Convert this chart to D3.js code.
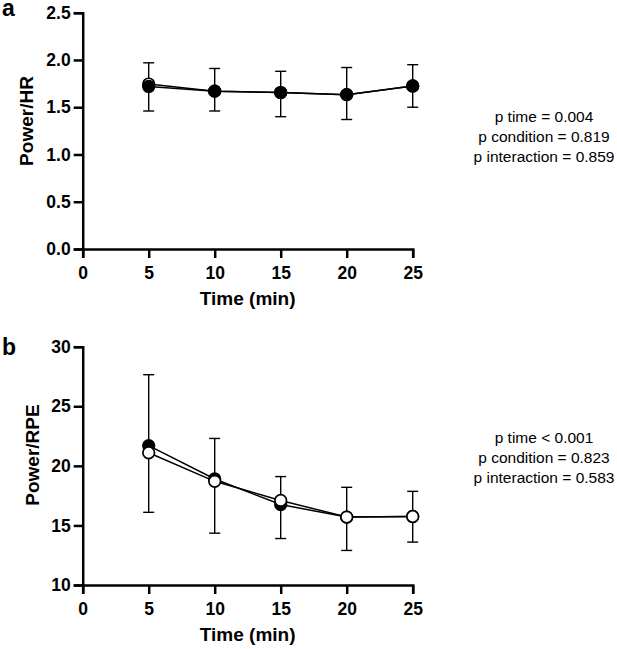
<!DOCTYPE html>
<html><head><meta charset="utf-8">
<script src="https://cdn.jsdelivr.net/npm/d3@7"></script>
<style>body{margin:0;background:#fff}svg{display:block}</style>
</head><body>
<script>
const times = [5, 10, 15, 20, 25];
const xTicks = [0, 5, 10, 15, 20, 25];

// Panel a: Power/HR
const hrFilled = [1.72, 1.67, 1.655, 1.633, 1.725];
const hrOpen   = [1.745, 1.67, 1.655, 1.633, 1.725];
const hrErrHigh = [1.97, 1.91, 1.88, 1.92, 1.95];
const hrErrLow  = [1.46, 1.46, 1.40, 1.37, 1.50];
const hrTicks = [0.0, 0.5, 1.0, 1.5, 2.0, 2.5];
const hrStats = ["p time = 0.004", "p condition = 0.819", "p interaction = 0.859"];

// Panel b: Power/RPE
const rpeFilled = [21.7, 18.9, 16.75, 15.7, 15.75];
const rpeOpen   = [21.1, 18.7, 17.1, 15.7, 15.75];
const rpeErrHigh = [27.65, 22.3, 19.1, 18.2, 17.86];
const rpeErrLow  = [16.1, 14.35, 13.9, 12.9, 13.6];
const rpeTicks = [10, 15, 20, 25, 30];
const rpeStats = ["p time < 0.001", "p condition = 0.823", "p interaction = 0.583"];

const W = 617, H = 649;
const svg = d3.select("body").append("svg").attr("width", W).attr("height", H)
  .style("font-family", "'Liberation Sans', Arial, sans-serif");

function panel(cfg) {
  const x = d3.scaleLinear().domain([0, 25]).range([82.7, 412.7]);
  const y = d3.scaleLinear().domain(cfg.yDomain).range([cfg.y0, cfg.y1]);
  const g = svg.append("g");

  // axes
  const xa = g.append("g").attr("transform", `translate(0,${cfg.y0})`)
    .call(d3.axisBottom(x).tickValues(xTicks).tickSize(9).tickPadding(9).tickFormat(d3.format("d")));
  const ya = g.append("g").attr("transform", `translate(82.7,0)`)
    .call(d3.axisLeft(y).tickValues(cfg.ticks).tickSize(9).tickPadding(3).tickFormat(cfg.fmt));
  [xa, ya].forEach(a => {
    a.select(".domain").attr("stroke", "#000").attr("stroke-width", 2.5);
    a.selectAll(".tick line").attr("stroke", "#000").attr("stroke-width", 2.5);
    a.selectAll(".tick text").attr("fill", "#000").style("font-size", "17.5px").style("font-weight", "bold");
  });

  // error bars
  const eb = g.append("g").attr("stroke", "#000").attr("stroke-width", 1.4).attr("fill", "none");
  times.forEach((t, i) => {
    const cx = x(t);
    eb.append("line").attr("x1", cx).attr("x2", cx).attr("y1", y(cfg.errLow[i])).attr("y2", y(cfg.errHigh[i]));
    eb.append("line").attr("x1", cx - 5.5).attr("x2", cx + 5.5).attr("y1", y(cfg.errLow[i])).attr("y2", y(cfg.errLow[i]));
    eb.append("line").attr("x1", cx - 5.5).attr("x2", cx + 5.5).attr("y1", y(cfg.errHigh[i])).attr("y2", y(cfg.errHigh[i]));
  });

  const line = d3.line().x((d, i) => x(times[i])).y(d => y(d));
  const drawSeries = (vals) => {
    g.append("path").datum(vals).attr("d", line).attr("fill", "none").attr("stroke", "#000").attr("stroke-width", 1.5);
  };
  const drawMarkers = (vals, filled) => {
    g.append("g").selectAll("circle").data(vals).join("circle")
      .attr("cx", (d, i) => x(times[i])).attr("cy", d => y(d)).attr("r", 5.8)
      .attr("fill", filled ? "#000" : "#fff").attr("stroke", "#000").attr("stroke-width", 1.7);
  };
  drawSeries(cfg.open); drawSeries(cfg.filled);
  if (cfg.openOnTop) { drawMarkers(cfg.filled, true); drawMarkers(cfg.open, false); }
  else { drawMarkers(cfg.open, false); drawMarkers(cfg.filled, true); }

  // titles
  g.append("text").attr("x", x(12.5)).attr("y", cfg.y0 + 56).attr("text-anchor", "middle")
    .style("font-size", "19px").style("font-weight", "bold").text("Time (min)");
  g.append("text").attr("transform", `translate(${cfg.ytx},${cfg.ytc}) rotate(-90)`).attr("text-anchor", "middle")
    .style("font-size", "19px").style("font-weight", "bold").text(cfg.yTitle);
  g.append("text").attr("x", 2).attr("y", cfg.letterY).style("font-size", "23px").style("font-weight", "bold").text(cfg.letter);

  cfg.stats.forEach((s, i) => {
    g.append("text").attr("x", 544).attr("y", cfg.statY + i * 20).attr("text-anchor", "middle")
      .style("font-size", "15.5px").text(s);
  });
}

panel({ yDomain: [0, 2.5], y0: 249, y1: 12.7, ticks: hrTicks, fmt: d3.format(".1f"),
  filled: hrFilled, open: hrOpen, errHigh: hrErrHigh, errLow: hrErrLow, openOnTop: false,
  yTitle: "Power/HR", ytx: 33, ytc: 121, letter: "a", letterY: 16, stats: hrStats, statY: 121.5 });

panel({ yDomain: [10, 30], y0: 585, y1: 346.7, ticks: rpeTicks, fmt: d3.format("d"),
  filled: rpeFilled, open: rpeOpen, errHigh: rpeErrHigh, errLow: rpeErrLow, openOnTop: true,
  yTitle: "Power/RPE", ytx: 39, ytc: 455, letter: "b", letterY: 355, stats: rpeStats, statY: 442.5 });
</script>
</body></html>
